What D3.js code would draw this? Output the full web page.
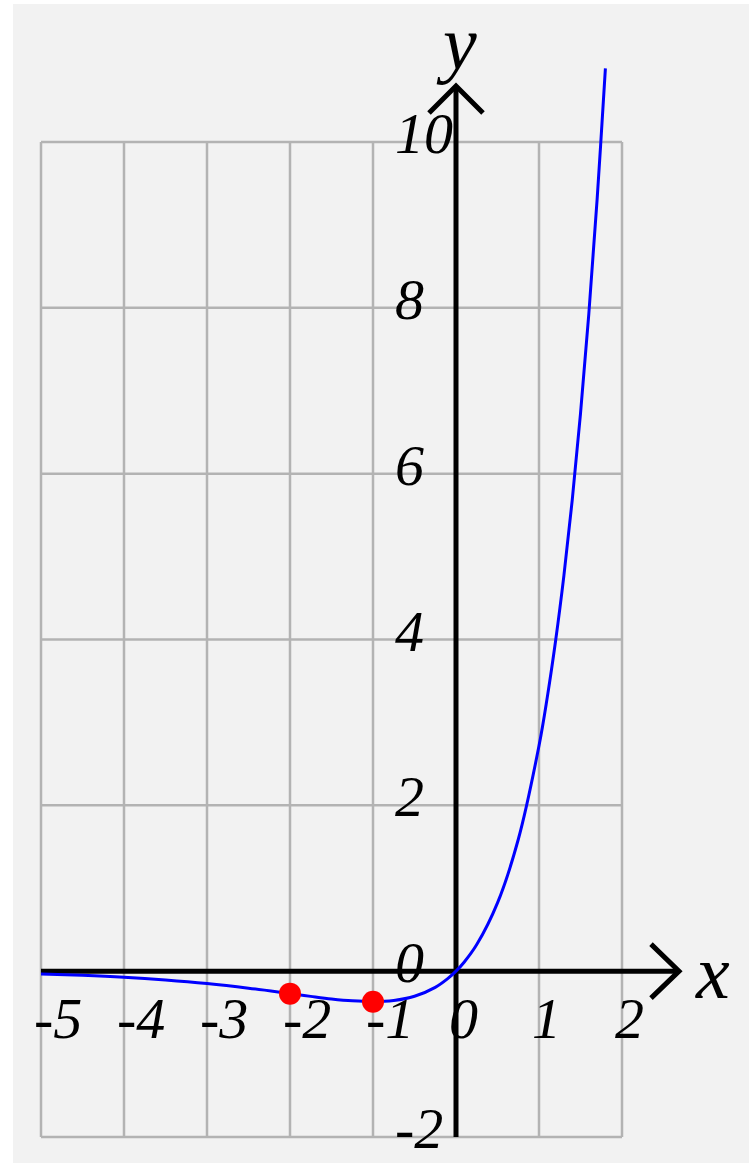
<!DOCTYPE html>
<head>
    <meta charset="utf-8">
    <style>
        body { margin: 0; background: #fff; }
        .grid line { stroke: #b3b3b3; stroke-width: 2.5; }
        .axes line, .axes path { stroke: #000; stroke-width: 5; fill: none; }
        text { font-family: "Liberation Serif", serif; font-style: italic; }
    </style>
</head>
<body>
    <svg width="749" height="1163"></svg>
    <script src="https://d3js.org/d3.v7.min.js"></script>
    <script>
    // curve samples (y = x e^x)
    var curveX = [-5, -4.5, -4, -3.5, -3, -2.5, -2, -1.75, -1.5, -1.25, -1, -0.75, -0.5, -0.25, -0.1, 0, 0.1, 0.25, 0.5, 0.75, 1, 1.1, 1.2, 1.3, 1.4, 1.5, 1.6, 1.7, 1.8];
    var curveY = [-0.034, -0.050, -0.073, -0.106, -0.149, -0.205, -0.271, -0.304, -0.335, -0.358, -0.368, -0.354, -0.303, -0.195, -0.090, 0, 0.111, 0.321, 0.824, 1.588, 2.718, 3.305, 3.984, 4.770, 5.677, 6.723, 7.925, 9.306, 10.889];
    var pointX = [-2, -1];
    var pointY = [-0.271, -0.368];
    var xTicks = [-5, -4, -3, -2, -1, 0, 1, 2];
    var yTicks = [-2, 0, 2, 4, 6, 8, 10];

    var svg = d3.select("svg");

    var x = d3.scaleLinear().domain([-5, 2]).range([41, 622]);
    var y = d3.scaleLinear().domain([-2, 10]).range([1137, 142]);

    svg.append("rect")
        .attr("x", 13).attr("y", 4)
        .attr("width", 736).attr("height", 1159)
        .attr("fill", "#f2f2f2");

    var grid = svg.append("g").attr("class", "grid");
    grid.selectAll(".v").data(xTicks).enter().append("line")
        .attr("x1", function(d) { return x(d); })
        .attr("x2", function(d) { return x(d); })
        .attr("y1", y(10)).attr("y2", y(-2));
    grid.selectAll(".h").data(yTicks).enter().append("line")
        .attr("y1", function(d) { return y(d); })
        .attr("y2", function(d) { return y(d); })
        .attr("x1", x(-5)).attr("x2", x(2));

    var axes = svg.append("g").attr("class", "axes");
    axes.append("line")
        .attr("x1", x(-5)).attr("x2", 679)
        .attr("y1", y(0)).attr("y2", y(0));
    axes.append("path")
        .attr("d", "M651," + (y(0) - 27) + "L679," + y(0) + "L651," + (y(0) + 27));
    axes.append("line")
        .attr("x1", x(0)).attr("x2", x(0))
        .attr("y1", y(-2)).attr("y2", 86);
    axes.append("path")
        .attr("d", "M" + (x(0) - 27) + ",113L" + x(0) + ",86L" + (x(0) + 27) + ",113");

    var pts = curveX.map(function(d, i) { return [d, curveY[i]]; });
    svg.append("path")
        .datum(pts)
        .attr("fill", "none")
        .attr("stroke", "#0000ff")
        .attr("stroke-width", 3)
        .attr("d", d3.line()
            .x(function(d) { return x(d[0]); })
            .y(function(d) { return y(d[1]); })
            .curve(d3.curveCatmullRom));

    svg.selectAll(".pt").data(pointX).enter().append("circle")
        .attr("cx", function(d) { return x(d); })
        .attr("cy", function(d, i) { return y(pointY[i]); })
        .attr("r", 11)
        .attr("fill", "#ff0000");

    svg.selectAll(".xl").data(xTicks).enter().append("text")
        .attr("x", function(d) { return x(d) - 7; })
        .attr("y", 1038)
        .attr("font-size", 58)
        .text(function(d) { return d; });

    svg.selectAll(".yl").data(yTicks).enter().append("text")
        .attr("x", 395)
        .attr("y", function(d) { return y(d) + 11; })
        .attr("font-size", 58)
        .text(function(d) { return d; });

    svg.append("text").attr("x", 696).attr("y", 998).attr("font-size", 76).text("x");
    svg.append("text").attr("x", 443).attr("y", 69).attr("font-size", 76).text("y");
    </script>
</body>
